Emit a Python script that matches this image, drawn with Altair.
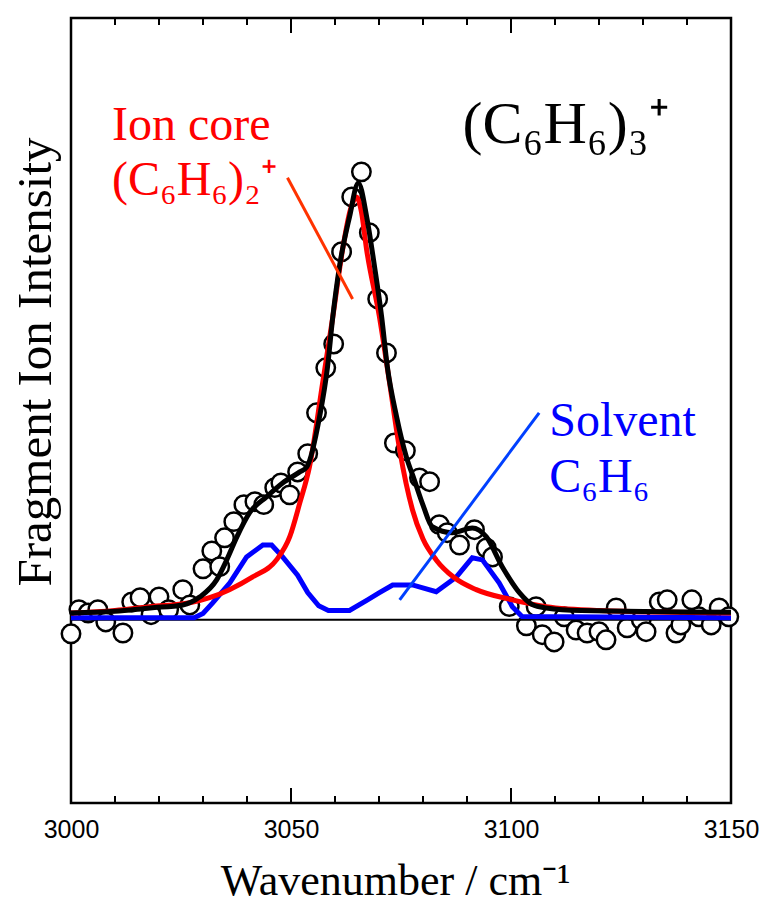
import altair as alt
import pandas as pd

# ---------------- data ----------------
obs_wn = [3000.0, 3001.8, 3003.9, 3006.1, 3007.9, 3011.8, 3013.8, 3015.7, 3018.2, 3020.0,
          3022.2, 3025.4, 3027.0, 3030.0, 3032.0, 3033.8, 3034.9, 3037.0, 3039.3, 3041.8,
          3043.8, 3046.3, 3047.7, 3049.7, 3051.5, 3053.8, 3055.8, 3057.9, 3059.7, 3061.5,
          3063.8, 3066.0, 3067.8, 3069.7, 3071.7, 3073.5, 3076.0, 3079.2, 3081.5, 3083.7,
          3085.5, 3088.3, 3091.7, 3094.4, 3095.8, 3099.6, 3103.5, 3105.7, 3107.1, 3109.8,
          3112.1, 3114.8, 3117.3, 3120.0, 3121.6, 3123.9, 3126.4, 3129.6, 3130.7, 3133.7,
          3135.5, 3137.5, 3138.6, 3141.1, 3142.7, 3145.5, 3147.3, 3149.5]
obs_int = [-3.3, 2.4, 1.6, 2.4, -0.5, -3.1, 4.2, 5.2, 1.2, 5.4,
           2.4, 7.1, 3.5, 12.0, 16.2, 12.5, 19.3, 23.1, 27.1, 27.8,
           27.1, 31.1, 32.2, 29.4, 34.8, 39.1, 48.7, 59.3, 64.9, 86.6,
           99.5, 105.4, 91.1, 75.5, 62.8, 41.6, 39.8, 33.4, 32.5, 22.4,
           20.5, 17.6, 21.2, 16.9, 14.8, 3.1, -1.4, 3.1, -3.5, -5.2,
           0.7, -2.4, -3.1, -2.8, -4.7, 2.8, -1.9, 0.0, -2.8, 4.2,
           4.7, -3.1, -1.2, 4.7, 0.7, -1.2, 2.8, 0.7]

fit_wn = [3000, 3010, 3018, 3025.4, 3029.3, 3033.1, 3035.4, 3037.7, 3040.6, 3044.5,
          3048.1, 3052, 3053.6, 3056.5, 3058.3, 3059.5, 3061, 3063.3, 3065.3, 3067.2,
          3069, 3070.6, 3071.9, 3074, 3076.2, 3078, 3080, 3082.1, 3086.7, 3091.2,
          3094.4, 3098, 3101.9, 3104.8, 3108, 3116, 3150]
fit_int = [1.6, 2.0, 2.8, 3.5, 5.4, 9.4, 14.1, 19.5, 25.2, 29.0,
           32.2, 34.8, 36.0, 47.8, 59.5, 71.3, 83.0, 94.8, 102.8, 94.8,
           83.0, 71.3, 59.5, 47.8, 38.4, 33.0, 27.0, 21.9, 20.5, 21.6,
           19.5, 12.5, 6.4, 3.6, 2.8, 2.2, 1.8]

core_wn = [3000, 3010, 3018, 3027, 3031.5, 3036, 3041.3, 3046.7, 3049.7, 3052,
           3054.2, 3057.2, 3059.5, 3061.7, 3063.5, 3064.9, 3066, 3067.2, 3070.1, 3072.4,
           3074.7, 3077.6, 3080, 3083, 3087, 3092.1, 3100.3, 3108, 3120, 3150]
core_int = [1.6, 2.2, 3.1, 4.0, 5.2, 7.1, 10.1, 14.1, 19.5, 27.5,
            36.0, 55.8, 71.3, 87.0, 96.5, 99.5, 96.0, 87.0, 71.3, 55.8,
            40.0, 25.9, 19.0, 14.1, 10.0, 7.1, 4.7, 3.1, 2.2, 1.6]

solv_wn = [3000, 3028, 3030, 3032.2, 3036.1, 3039.9, 3043.6, 3045.6, 3048.1, 3051.5,
           3053.8, 3056.3, 3058.5, 3063.3, 3067.4, 3070.1, 3073.1, 3077.6, 3083, 3087.6,
           3091.2, 3093.5, 3097.3, 3100.3, 3102.5, 3150]
solv_int = [0.5, 0.5, 1.5, 4.0, 8.7, 14.8, 17.6, 17.6, 14.8, 10.5,
            6.4, 3.3, 2.2, 2.2, 4.7, 6.4, 8.2, 8.2, 6.6, 10.1,
            14.6, 14.1, 8.7, 3.1, 0.8, 0.5]

major_ticks = [3000, 3050, 3100, 3150]
inner_major_ticks = [3050, 3100]
minor_ticks = [3010, 3020, 3030, 3040, 3060, 3070, 3080, 3090,
               3110, 3120, 3130, 3140]

x_domain = [3000, 3150]
y_domain = [-43.1, 141.6]

x_title = "Wavenumber / cm⁻¹"
y_title = "Fragment Ion Intensity"

label_text = ["Ion core", "(C₆H₆)₂⁺", "(C₆H₆)₃⁺", "Solvent", "C₆H₆"]
label_wn = [3009.3, 3009.3, 3089.0, 3108.7, 3108.7]
label_int = [113.0, 100.0, 112.2, 43.3, 30.1]

pointer_wn = [3049.2, 3074.7]
pointer_int = [104.0, 4.7]
pointer_wn2 = [3064.0, 3106.4]
pointer_int2 = [75.5, 48.7]

# ---------------- chart ----------------
W, H = 660, 785
SERIF = "Liberation Serif"
SANS = "Liberation Sans"

xs = alt.Scale(domain=x_domain, nice=False, zero=False)
ys = alt.Scale(domain=y_domain, nice=False, zero=False)

obs_df = pd.DataFrame({"wn": obs_wn, "I": obs_int})
fit_df = pd.DataFrame({"wn": fit_wn, "I": fit_int})
core_df = pd.DataFrame({"wn": core_wn, "I": core_int})
solv_df = pd.DataFrame({"wn": solv_wn, "I": solv_int})

axis_labels = alt.Axis(values=major_ticks, format="d", ticks=False, domain=False, grid=False,
                       labelFlush=False, labelOverlap=False,
                       labelFont=SANS, labelFontSize=25, labelColor="black",
                       labelPadding=14, title=x_title, titleFont=SERIF,
                       titleFontSize=44, titleFontWeight="normal", titleColor="black",
                       titleX=324, titleY=91, titleAlign="center",
                       titleBaseline="alphabetic")

points = alt.Chart(obs_df).mark_point(
    shape="circle", filled=True, fill="white", stroke="black", strokeWidth=2.5,
    size=340, opacity=1
).encode(
    x=alt.X("wn:Q", scale=xs, axis=axis_labels),
    y=alt.Y("I:Q", scale=ys, axis=None),
)

zero_line = alt.Chart(pd.DataFrame({"I": [0]})).mark_rule(color="black", strokeWidth=2).encode(
    y=alt.Y("I:Q", scale=ys, axis=None)
)

# inward tick marks on the bottom and top frame edges (lengths in pixels -> data units)
per_px = (y_domain[1] - y_domain[0]) / H


def tick_rows(values, length_px):
    L = length_px * per_px
    rows = []
    for v in values:
        rows.append({"wn": v, "y0": y_domain[0], "y1": y_domain[0] + L})
        rows.append({"wn": v, "y0": y_domain[1], "y1": y_domain[1] - L})
    return rows


tick_df = pd.DataFrame(tick_rows(minor_ticks, 7) + tick_rows(inner_major_ticks, 15))
ticks = alt.Chart(tick_df).mark_rule(color="black", strokeWidth=2).encode(
    x=alt.X("wn:Q", scale=xs, axis=None),
    y=alt.Y("y0:Q", scale=ys, axis=None),
    y2="y1:Q",
)

solv_line = alt.Chart(solv_df).mark_line(color="#0000ff", strokeWidth=5).encode(
    x=alt.X("wn:Q", scale=xs, axis=None),
    y=alt.Y("I:Q", scale=ys, axis=None),
)
core_line = alt.Chart(core_df).mark_line(color="#ff0000", strokeWidth=5, interpolate="monotone").encode(
    x=alt.X("wn:Q", scale=xs, axis=None),
    y=alt.Y("I:Q", scale=ys, axis=None),
)
fit_line = alt.Chart(fit_df).mark_line(color="black", strokeWidth=5, interpolate="monotone").encode(
    x=alt.X("wn:Q", scale=xs, axis=None),
    y=alt.Y("I:Q", scale=ys, axis=None),
)

ptr_df = pd.DataFrame({"wn": pointer_wn, "I": pointer_int, "wn2": pointer_wn2,
                       "I2": pointer_int2, "c": ["red", "blue"]})
pointers = alt.Chart(ptr_df).mark_rule(strokeWidth=3).encode(
    x=alt.X("wn:Q", scale=xs, axis=None),
    y=alt.Y("I:Q", scale=ys, axis=None),
    x2="wn2:Q",
    y2="I2:Q",
    color=alt.Color("c:N", scale=alt.Scale(domain=["red", "blue"], range=["#ff3300", "#0040ff"]), legend=None),
)

lab_df = pd.DataFrame({"wn": label_wn, "I": label_int, "t": label_text,
                       "c": ["red", "red", "black", "blue", "blue"],
                       "s": [48, 48, 60, 48, 48]})
labels = alt.Chart(lab_df).mark_text(align="left", baseline="alphabetic", font=SERIF).encode(
    x=alt.X("wn:Q", scale=xs, axis=None),
    y=alt.Y("I:Q", scale=ys, axis=None),
    text="t:N",
    color=alt.Color("c:N", scale=alt.Scale(domain=["red", "black", "blue"], range=["#ff0000", "#000000", "#0000ff"]), legend=None),
    size=alt.Size("s:Q", scale=None, legend=None),
)

y_title_mark = alt.Chart(pd.DataFrame({"t": [y_title]})).mark_text(
    font=SERIF, fontSize=49, angle=270, align="center", baseline="alphabetic", color="black"
).encode(
    x=alt.value(-20),
    y=alt.value(344),
    text="t:N",
)

chart = alt.layer(
    points, zero_line, ticks, solv_line, core_line, fit_line, pointers, labels, y_title_mark
).resolve_axis(x="independent").resolve_scale(color="independent").properties(
    width=W, height=H,
    padding={"left": 63, "top": 10, "right": 28, "bottom": 103},
    autosize=alt.AutoSizeParams(type="none"),
).configure_view(stroke="black", strokeWidth=2.5)

chart.save("out.html", embed_options={"renderer": "svg", "actions": False})
